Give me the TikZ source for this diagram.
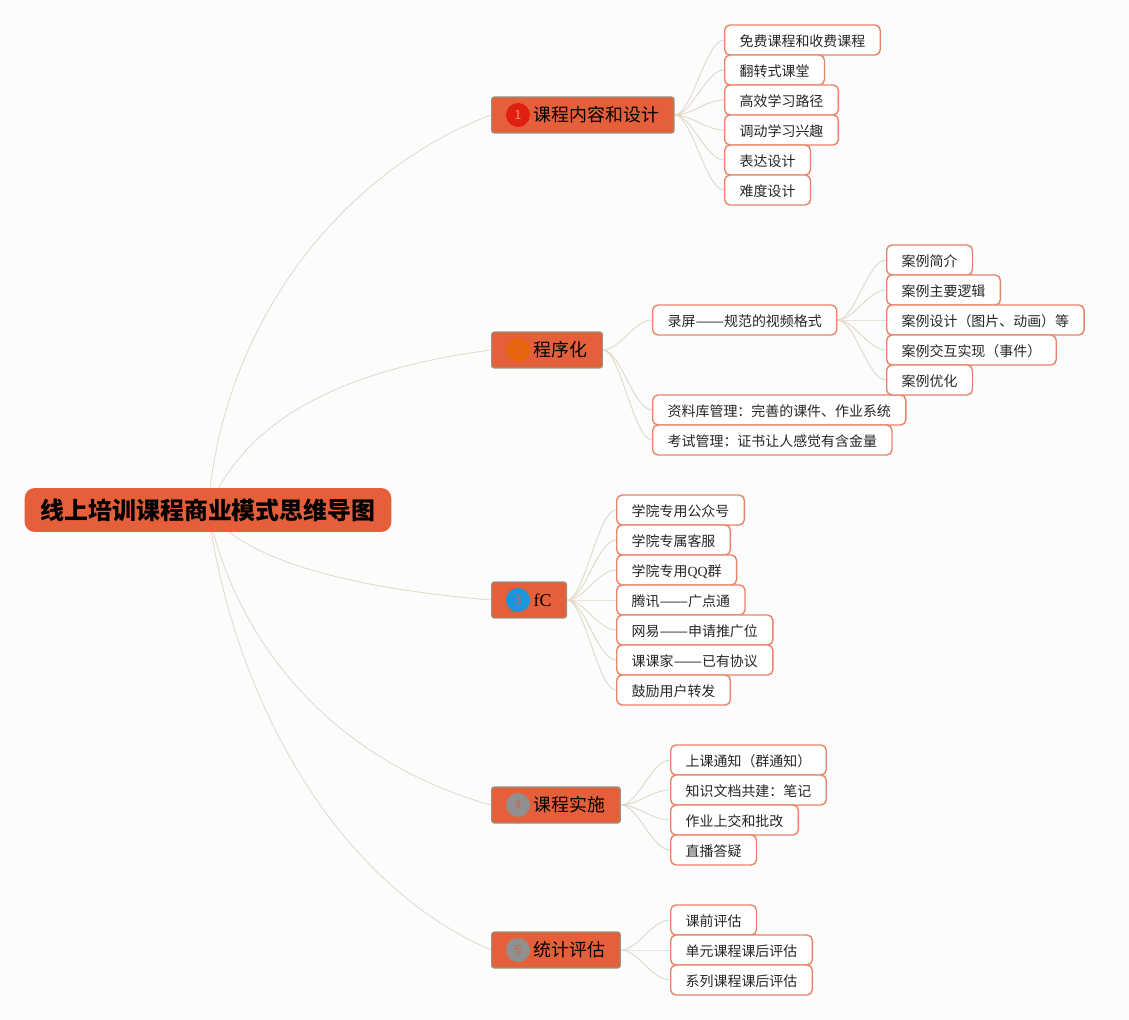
\documentclass[tikz,border=0pt]{standalone}
\usepackage{fontspec}
\setmainfont{Liberation Serif}
\newfontfamily\cjk{Noto Sans CJK SC}
\usetikzlibrary{positioning, backgrounds}
\definecolor{Canvas}{RGB}{252,252,252}
\definecolor{Topic}{RGB}{229,96,58}
\definecolor{TopicLine}{RGB}{150,148,125}
\definecolor{LeafLine}{RGB}{232,132,106}
\definecolor{Edge}{RGB}{226,216,198}
\definecolor{Badge-1}{RGB}{224,32,14}
\definecolor{Badge-2}{RGB}{232,102,12}
\definecolor{Badge-3}{RGB}{26,150,220}
\definecolor{Badge-4}{RGB}{144,144,144}
\newcommand{\longdash}{\scalebox{1.22}[1]{——}}

\begin{document}
\begin{tikzpicture}[x=0.02cm, y=-0.02cm]
          \tikzset{ root/.style ={fill=Topic, rounded corners=10*0.02cm, inner xsep=0.32cm, minimum height=0.88cm, font=\fontsize{13.6}{16}\selectfont\cjk\bfseries} }
          \tikzset{ topic/.style={draw=TopicLine, fill=Topic, rounded corners=1.5pt, line width=0.7pt, anchor=west, inner xsep=0.3cm, minimum height=0.72cm, text height=9.5pt, text depth=1.8pt, font=\fontsize{10.2}{12}\selectfont\cjk} }
          \tikzset{ leaf/.style ={draw=LeafLine, fill=white, rounded corners=3pt, line width=0.8pt, anchor=west, inner xsep=0.3cm, inner ysep=0pt, minimum height=0.6cm, text height=8pt, text depth=0.8pt, text=black!85, font=\fontsize{7.94}{10}\selectfont\cjk} }
          \tikzset{ badge/.style={circle, inner sep=0pt, minimum size=0.48cm, font=\fontsize{7.9}{8}\selectfont\sffamily} }
          \tikzset{ edge/.style ={draw=Edge, line width=0.5pt} }
          \tikzset{ mainedge/.style ={draw=Edge, line width=0.45pt} }

          \useasboundingbox (0,0) rectangle (1129,1020);

          \node[root] (root) at (208,510) {线上培训课程商业模式思维导图};

          \node[topic] (b1) at (491,115) {\hspace*{0.54cm}课程内容和设计};
          \node[topic] (b2) at (491,350) {\hspace*{0.54cm}程序化};
          \node[topic] (b3) at (491,600) {\hspace*{0.54cm}{\rmfamily fC}};
          \node[topic] (b4) at (491,805) {\hspace*{0.54cm}课程实施};
          \node[topic] (b5) at (491,950) {\hspace*{0.54cm}统计评估};

          \node[badge, fill=Badge-1, text=Topic!70!white] (b1_n) at (518,115) {1};
          \node[badge, fill=Badge-2, text=Topic]          (b2_n) at (518,350) {2};
          \node[badge, fill=Badge-3, text=Topic!80!gray]  (b3_n) at (518,600) {3};
          \node[badge, fill=Badge-4, text=Topic!80!gray]  (b4_n) at (518,805) {4};
          \node[badge, fill=Badge-4, text=Topic!80!gray]  (b5_n) at (518,950) {5};

          \node[leaf] (b1_1) at (724, 40) {免费课程和收费课程};
          \node[leaf] (b1_2) at (724, 70) {翻转式课堂};
          \node[leaf] (b1_3) at (724,100) {高效学习路径};
          \node[leaf] (b1_4) at (724,130) {调动学习兴趣};
          \node[leaf] (b1_5) at (724,160) {表达设计};
          \node[leaf] (b1_6) at (724,190) {难度设计};

          \node[leaf] (b2_1) at (652,320) {录屏\longdash 规范的视频格式};
          \node[leaf] (b2_2) at (652,410) {资料库管理：完善的课件、作业系统};
          \node[leaf] (b2_3) at (652,440) {考试管理：证书让人感觉有含金量};

          \node[leaf] (c1) at (886,260) {案例简介};
          \node[leaf] (c2) at (886,290) {案例主要逻辑};
          \node[leaf] (c3) at (886,320) {案例设计（图片、动画）等};
          \node[leaf] (c4) at (886,350) {案例交互实现（事件）};
          \node[leaf] (c5) at (886,380) {案例优化};

          \node[leaf] (b3_1) at (616,510) {学院专用公众号};
          \node[leaf] (b3_2) at (616,540) {学院专属客服};
          \node[leaf] (b3_3) at (616,570) {学院专用{\rmfamily QQ}群};
          \node[leaf] (b3_4) at (616,600) {腾讯\longdash 广点通};
          \node[leaf] (b3_5) at (616,630) {网易\longdash 申请推广位};
          \node[leaf] (b3_6) at (616,660) {课课家\longdash 已有协议};
          \node[leaf] (b3_7) at (616,690) {鼓励用户转发};

          \node[leaf] (b4_1) at (670,760) {上课通知（群通知）};
          \node[leaf] (b4_2) at (670,790) {知识文档共建：笔记};
          \node[leaf] (b4_3) at (670,820) {作业上交和批改};
          \node[leaf] (b4_4) at (670,850) {直播答疑};

          \node[leaf] (b5_1) at (670,920) {课前评估};
          \node[leaf] (b5_2) at (670,950) {单元课程课后评估};
          \node[leaf] (b5_3) at (670,980) {系列课程课后评估};

          \begin{scope}[on background layer]
          \fill[Canvas] (0,0) rectangle (1129,1020);

          \draw[mainedge] (root.center) .. controls (222,320) and (345,170) .. (b1.west);
          \draw[mainedge] (root.center) .. controls (245,420) and (340,370) .. (b2.west);
          \draw[mainedge] (root.center) .. controls (245,565) and (370,590) .. (b3.west);
          \draw[mainedge] (root.center) .. controls (235,640) and (330,760) .. (b4.west);
          \draw[mainedge] (root.center) .. controls (232,690) and (330,880) .. (b5.west);

          \foreach \leafname in {b1_1,b1_2,b1_3,b1_4,b1_5,b1_6}
            \draw[edge] (b1.east) .. controls +(17,0) and +(-18,0) .. (\leafname.west);
          \foreach \leafname in {b2_1,b2_2,b2_3}
            \draw[edge] (b2.east) .. controls +(17,0) and +(-18,0) .. (\leafname.west);
          \foreach \leafname in {c1,c2,c3,c4,c5}
            \draw[edge] (b2_1.east) .. controls +(17,0) and +(-18,0) .. (\leafname.west);
          \foreach \leafname in {b3_1,b3_2,b3_3,b3_4,b3_5,b3_6,b3_7}
            \draw[edge] (b3.east) .. controls +(17,0) and +(-18,0) .. (\leafname.west);
          \foreach \leafname in {b4_1,b4_2,b4_3,b4_4}
            \draw[edge] (b4.east) .. controls +(17,0) and +(-18,0) .. (\leafname.west);
          \foreach \leafname in {b5_1,b5_2,b5_3}
            \draw[edge] (b5.east) .. controls +(17,0) and +(-18,0) .. (\leafname.west);
          \end{scope}
\end{tikzpicture}
\end{document}
